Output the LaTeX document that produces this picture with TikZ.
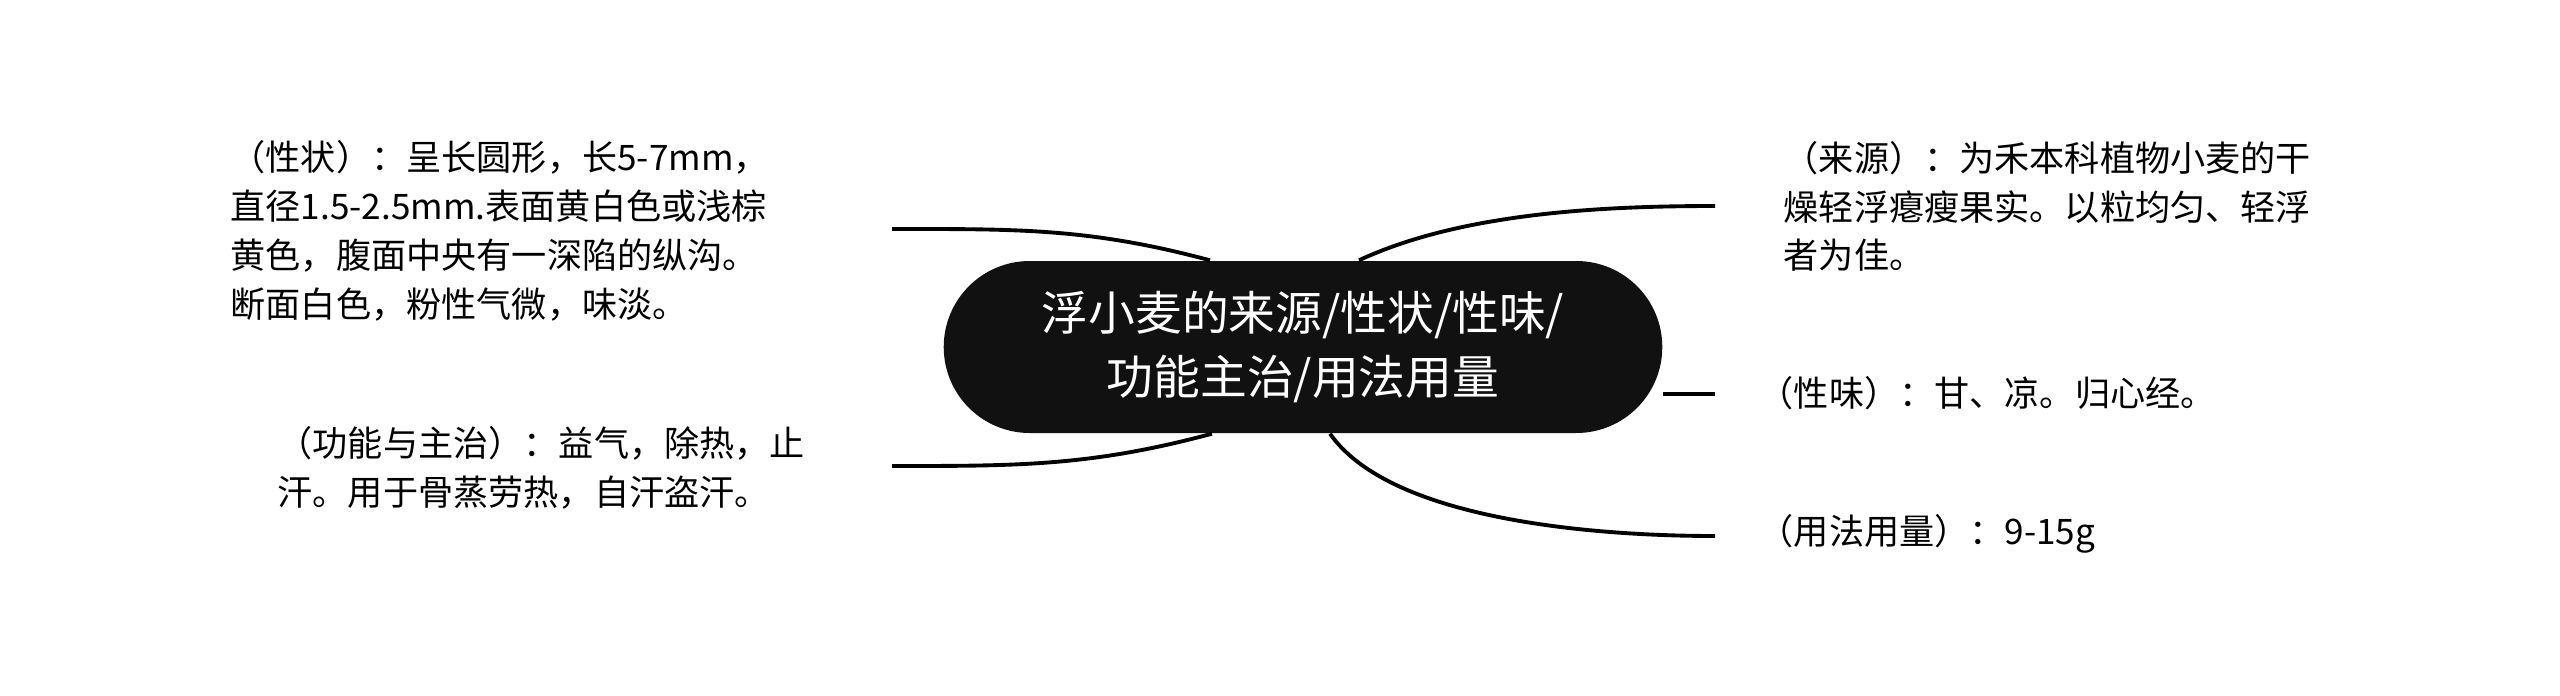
\documentclass[tikz,border=0pt]{standalone}
\usepackage{fontspec}
\setmainfont{Noto Sans CJK SC}
\usepackage{xcolor}
\usetikzlibrary{shapes.misc}
\definecolor{rootfill}{HTML}{111111}

\begin{document}
\begin{tikzpicture}[leaf/.style={align=left, anchor=west, inner sep=0pt, font=\fontsize{10pt}{13.9pt}\selectfont},
  link/.style={line width=1.1pt}]
\useasboundingbox (0,0) rectangle (25.6,6.95);
\node[rounded rectangle, fill=rootfill, text=white, minimum width=7.42cm, minimum height=1.72cm, align=center, font=\fontsize{13.3pt}{18.4pt}\selectfont] (root) at (13.03,3.48) {浮小麦的来源/性状/性味/\\功能主治/用法用量};
\node[leaf] (xz) at (2.30,4.64) {（性状）：呈长圆形，长5-7mm，\\直径1.5-2.5mm.表面黄白色或浅棕\\黄色，腹面中央有一深陷的纵沟。\\断面白色，粉性气微，味淡。};
\node[leaf] (gn) at (2.77,2.275) {（功能与主治）：益气，除热，止\\汗。用于骨蒸劳热，自汗盗汗。};
\node[leaf] (ly) at (17.83,4.885) {（来源）：为禾本科植物小麦的干\\燥轻浮瘪瘦果实。以粒均匀、轻浮\\者为佳。};
\node[leaf] (xw) at (17.58,3.02) {（性味）：甘、凉。归心经。};
\node[leaf] (yf) at (17.58,1.61) {（用法用量）：9-15g};
\coordinate (xz-end) at (8.92,4.66);
\coordinate (gn-end) at (8.92,2.29);
\coordinate (ly-end) at (17.15,4.89);
\coordinate (xw-end) at (17.15,3.01);
\coordinate (yf-end) at (17.15,1.59);
\draw[link] ([xshift=-0.93cm]root.north) to[out=165,in=0] (xz-end);
\draw[link] ([xshift=-0.91cm]root.south) to[out=195,in=0] (gn-end);
\draw[link] ([xshift=0.56cm]root.north) to[out=25,in=180,looseness=0.8] (ly-end);
\draw[link] (xw-end -| root.east) -- (xw-end);
\draw[link] ([xshift=0.27cm]root.south) to[out=-55,in=180,looseness=0.7] (yf-end);
\end{tikzpicture}
\end{document}
